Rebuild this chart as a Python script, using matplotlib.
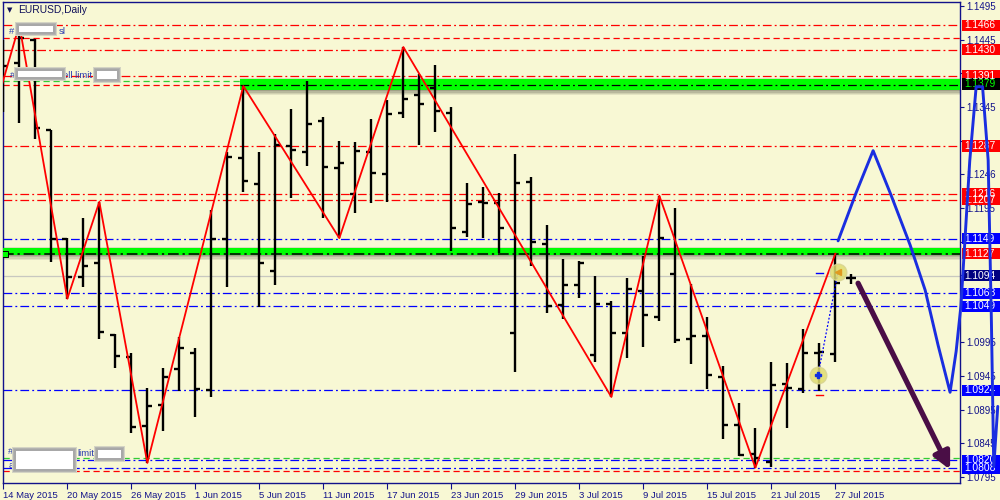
import matplotlib
matplotlib.use("Agg")
import matplotlib.pyplot as plt
from matplotlib.patches import Rectangle
from matplotlib.lines import Line2D
from matplotlib.transforms import blended_transform_factory
import numpy as np

plt.rcParams['font.family'] = ['Liberation Sans', 'DejaVu Sans']

# ---------------- data ----------------
x_labels = ["14 May 2015", "20 May 2015", "26 May 2015", "1 Jun 2015", "5 Jun 2015",
            "11 Jun 2015", "17 Jun 2015", "23 Jun 2015", "29 Jun 2015", "3 Jul 2015",
            "9 Jul 2015", "15 Jul 2015", "21 Jul 2015", "27 Jul 2015"]
x_label_bars = [0, 4, 8, 12, 16, 20, 24, 28, 32, 36, 40, 44, 48, 52]

opens = [1.1366, 1.1410, 1.1444, 1.1311, 1.1149, 1.1092, 1.1113, 1.1006, 1.0973, 1.0871,
         1.0902, 1.0956, 1.0979, 1.0924, 1.1149, 1.1269, 1.1231, 1.1101, 1.1287, 1.1278,
         1.1324, 1.1254, 1.1216, 1.1278, 1.1245, 1.1336, 1.1363, 1.1373, 1.1336, 1.1159,
         1.1204, 1.1202, 1.1009, 1.1234, 1.1141, 1.1051, 1.1080, 1.0976, 1.1052, 1.1009,
         1.1072, 1.1033, 1.1097, 1.1000, 1.1005, 1.0944, 1.0872, 1.0829, 1.0817, 1.0933,
         1.0926, 1.0979, 1.0978, 1.1091]
highs = [1.1445, 1.1467, 1.1446, 1.1311, 1.1150, 1.1180, 1.1204, 1.1008, 1.0979, 1.0927,
         1.0957, 1.1003, 1.0987, 1.1192, 1.1278, 1.1376, 1.1278, 1.1305, 1.1342, 1.1384,
         1.1330, 1.1294, 1.1293, 1.1327, 1.1355, 1.1434, 1.1394, 1.1407, 1.1345, 1.1232,
         1.1226, 1.1217, 1.1275, 1.1241, 1.1170, 1.1119, 1.1116, 1.1094, 1.1057, 1.1091,
         1.1124, 1.1213, 1.1195, 1.1082, 1.1033, 1.0960, 1.0905, 1.0868, 1.0966, 1.0965,
         1.1015, 1.0994, 1.1127, 1.1097]
lows = [1.1337, 1.1321, 1.1297, 1.1115, 1.1060, 1.1077, 1.1000, 1.0957, 1.0861, 1.0816,
        1.0863, 1.0923, 1.0884, 1.0914, 1.1077, 1.1219, 1.1048, 1.1080, 1.1210, 1.1257,
        1.1180, 1.1150, 1.1187, 1.1202, 1.1204, 1.1329, 1.1288, 1.1308, 1.1131, 1.1152,
        1.1150, 1.1128, 1.0951, 1.1109, 1.1039, 1.1030, 1.1061, 1.0966, 1.0914, 1.0972,
        1.0988, 1.1027, 1.0994, 1.0963, 1.0926, 1.0852, 1.0826, 1.0809, 1.0810, 1.0868,
        1.0920, 1.0923, 1.0966, 1.1082]
closes = [1.1406, 1.1447, 1.1314, 1.1149, 1.1092, 1.1109, 1.1011, 1.0975, 1.0869, 1.0901,
          1.0944, 1.0987, 1.0926, 1.1149, 1.1271, 1.1235, 1.1113, 1.1288, 1.1281, 1.1320,
          1.1256, 1.1262, 1.1280, 1.1247, 1.1335, 1.1357, 1.1349, 1.1339, 1.1165, 1.1201,
          1.1202, 1.1165, 1.1232, 1.1144, 1.1049, 1.1080, 1.1113, 1.1052, 1.1009, 1.1074,
          1.1036, 1.1150, 1.0999, 1.1005, 1.0947, 1.0872, 1.0828, 1.0823, 1.0932, 1.0927,
          1.0979, 1.0981, 1.1083, 1.1091]

# zigzag pivots (bar index, 'H' high / 'L' low); first point is the off-chart prior pivot
zigzag_start = (-1, 1.1303)
zigzag_bars = [1, 4, 6, 9, 15, 21, 25, 38, 41, 47, 52]
zigzag_kind = ['H', 'L', 'H', 'L', 'H', 'L', 'H', 'L', 'H', 'L', 'H']

# horizontal levels
red_dashdot = [1.1466, 1.1430, 1.1391, 1.1287, 1.1216, 1.1207]
red_dashed = [1.1448, 1.1378, 1.0804]
green_dashed = [1.1384, 1.0823]
blue_dashdot = [1.1149, 1.1068, 1.1049, 1.0924, 1.0820, 1.0808]
black_dashdot = [1.1377, 1.1127]
bid_price = 1.1094

# zones (price low, price high, starting bar)
zone_upper = (1.1370, 1.1387, 14.8)
zone_lower = (1.1125, 1.1136, -0.5)

# right-hand price labels
tag_prices = [1.1466, 1.1430, 1.1391, 1.1379, 1.1287, 1.1216, 1.1207, 1.1149, 1.1127,
              1.1094, 1.1068, 1.1049, 1.0924, 1.0820, 1.0808]
tag_bg = ['#ff0000', '#ff0000', '#ff0000', '#000000', '#ff0000', '#ff0000', '#ff0000',
          '#0000ff', '#ff0000', '#000080', '#0000ff', '#0000ff', '#0000ff', '#0000ff', '#0000ff']
tag_fg = ['white', 'white', 'white', '#00ff00', 'white', 'white', 'white', 'white', 'white',
          'white', 'white', 'white', 'white', 'white', 'white']

y_ticks = [1.1495, 1.1445, 1.1395, 1.1345, 1.1295, 1.1245, 1.1195, 1.1145, 1.1095,
           1.1045, 1.0995, 1.0945, 1.0895, 1.0845, 1.0795]
# labels fully hidden behind price tags in the reference are left blank
y_tick_labels = ["1.1495", "1.1445", "", "1.1345", "", "1.1246", "1.1195",
                 "", "", "", "1.0995", "1.0945", "1.0895", "1.0845", "1.0795"]

# projection curve (bar index, price)
proj_x = [52.17, 53.29, 54.36, 55.48, 56.67, 57.61, 58.42, 59.17, 59.55, 59.85, 60.4,
          60.8, 61.2, 61.55, 61.75, 61.9, 62.15]
proj_p = [1.1146, 1.1217, 1.1280, 1.1214, 1.1140, 1.1073, 1.0991, 1.0921, 1.0982, 1.1050,
          1.1265, 1.1375, 1.1375, 1.1266, 1.1030, 1.0810, 1.0900]

# forecast arrow
arrow_from = (53.42, 1.1083)
arrow_to = (59.17, 1.0806)

# trade markers
trade_open = (50.92, 1.0947)
trade_close = (52.17, 1.1100)

# ---------------- figure ----------------
BG = '#f8f8d4'
NAVY = '#12128a'
fig = plt.figure(figsize=(10, 5), dpi=100, facecolor=BG)
AX_L, AX_B, AX_W, AX_H = 0.003, 0.034, 0.957, 0.962
ax = fig.add_axes([AX_L, AX_B, AX_W, AX_H])
ax.set_facecolor(BG)
xmin, xmax = -0.02, 59.79
ymin, ymax = 1.07862, 1.15009
ax.set_xlim(xmin, xmax)
ax.set_ylim(ymin, ymax)

for s in ax.spines.values():
    s.set_color(NAVY)
    s.set_linewidth(1.0)

dd = (0, (7, 2.5, 1.5, 2.5))
dash = (0, (5, 3))

# horizontal lines
ax.axhline(bid_price, color='#c8c8c0', lw=0.9, zorder=1)
for p in red_dashdot:
    ax.axhline(p, color='#ff0000', lw=0.9, ls=dd, zorder=2)
for p in red_dashed:
    ax.axhline(p, color='#ff0000', lw=0.9, ls=dash, zorder=2)
for p in green_dashed:
    ax.axhline(p, color='#32cd32', lw=0.9, ls=dash, zorder=2)
for p in blue_dashdot:
    ax.axhline(p, color='#0000ff', lw=0.9, ls=dd, zorder=2)

# zones with shadow
for lo, hi, start in (zone_upper, zone_lower):
    h = hi - lo
    step = 0.00018
    for k, a in enumerate([0.55, 0.4, 0.25, 0.12]):
        ax.add_patch(Rectangle((start + 0.12, lo - step * (k + 1)), xmax - start, step,
                               color='#5a5a48', alpha=a, lw=0, zorder=2.5))
    ax.add_patch(Rectangle((start, hi), xmax - start, step * 0.7,
                           color='#8a8a70', alpha=0.25, lw=0, zorder=2.5))
    ax.add_patch(Rectangle((start, lo), xmax - start, h, color='#00ff00', lw=0, zorder=3))

ax.plot([zone_upper[2], xmax], [black_dashdot[0]] * 2, color='black', lw=0.9, ls=dd, zorder=3.5)
ax.plot([xmin, xmax], [black_dashdot[1]] * 2, color='black', lw=1.1, ls=dd, zorder=3.5)
ax.plot([0.1], [black_dashdot[1]], marker='s', ms=4, mfc='#00ff00', mec='black', mew=0.7, zorder=4)

# OHLC bars
idx = np.arange(len(opens))
ax.vlines(idx, lows, highs, color='black', lw=1.7, zorder=5)
ax.hlines(opens, idx - 0.32, idx, color='black', lw=1.7, zorder=5)
ax.hlines(closes, idx, idx + 0.32, color='black', lw=1.7, zorder=5)

# zigzag
zx = [zigzag_start[0]] + zigzag_bars
zy = [zigzag_start[1]] + [highs[b] if k == 'H' else lows[b] for b, k in zip(zigzag_bars, zigzag_kind)]
ax.plot(zx, zy, color='#ff0000', lw=1.3, zorder=6)

# trade markers
ax.plot([trade_open[0], trade_close[0]], [trade_open[1], trade_close[1]], color='#0000ff',
        lw=0.9, ls=(0, (1.5, 1.5)), zorder=6)
for (tx, ty) in (trade_open, trade_close):
    ax.plot([tx], [ty], 'o', ms=12, mfc='#e0dc70', mec='#d8d490', alpha=0.85, zorder=7)
ax.plot([trade_open[0]], [trade_open[1]], marker='P', ms=5, color='#1030e0', zorder=8)
ax.plot([trade_close[0]], [trade_close[1]], marker='<', ms=5, color='#e09a20', zorder=8)
ax.plot([trade_open[0] - 0.1, trade_open[0] + 0.3], [1.1098] * 2, color='#0000ff', lw=1, zorder=6)
ax.plot([trade_open[0] - 0.1, trade_open[0] + 0.3], [1.0917] * 2, color='#ff0000', lw=1, zorder=6)

# arrow
ax.annotate('', xy=arrow_to, xytext=arrow_from,
            arrowprops=dict(arrowstyle='-|>,head_length=1.0,head_width=0.5', color='#4a0e46',
                            lw=3.8, shrinkA=0, shrinkB=0), zorder=9)

# axes ticks
ax.yaxis.tick_right()
ax.set_yticks(y_ticks)
ax.set_yticklabels(y_tick_labels)
ax.tick_params(axis='y', direction='out', length=3, width=0.8, color=NAVY, labelcolor=NAVY,
               labelsize=7, pad=1.5)
ax.set_xticks(x_label_bars)
ax.set_xticklabels(x_labels, ha='left')
ax.tick_params(axis='x', direction='out', length=4, width=0.8, color=NAVY, labelcolor=NAVY,
               labelsize=6.8, pad=1.5)

# right-side price tags
tr = blended_transform_factory(fig.transFigure, ax.transData)
half = 5.6 / 6729
for p, bg, fg in zip(tag_prices, tag_bg, tag_fg):
    ax.add_patch(Rectangle((0.962, p - half), 0.038, 2 * half, transform=tr, color=bg,
                           clip_on=False, zorder=20, lw=0))
    ax.text(0.9645, p, "%.4f" % p, transform=tr, color=fg, fontsize=7.4, va='center',
            ha='left', zorder=21, clip_on=False)

# projection curve: drawn at figure level (runs past the price scale), using the axes' data transform
fig.canvas.draw()
pts = ax.transData.transform(np.column_stack([proj_x, proj_p]))
fw, fh = fig.bbox.width, fig.bbox.height
fig.add_artist(Line2D(pts[:, 0] / fw, pts[:, 1] / fh, transform=fig.transFigure,
                      color='#1a2ee0', lw=2.1, solid_joinstyle='round',
                      solid_capstyle='round', zorder=40))


# ---- overlay text & redaction boxes (figure pixel positions) ----
def fpx(x, y):
    return x / 1000.0, 1 - y / 500.0


def box(x0, y0, x1, y1):
    for pad, col in ((4, '#d4d4c4'), (3, '#b4b4b0'), (2, '#a8a8a8')):
        fig.add_artist(Rectangle(fpx(x0 - pad, y1 + pad), (x1 - x0 + 2 * pad) / 1000,
                                 (y1 - y0 + 2 * pad) / 500, transform=fig.transFigure,
                                 color=col, lw=0, zorder=30))
    fig.add_artist(Rectangle(fpx(x0, y1), (x1 - x0) / 1000, (y1 - y0) / 500,
                             transform=fig.transFigure, color='white', lw=0, zorder=31))


TXT = '#2a3cb0'
for (x, y, s) in [(9, 31, '#'), (59, 31, 'sl'), (10, 75, '#'), (63, 75, 'ell limit'),
                  (8, 452, '#'), (77, 453, 'limit'), (9, 466, 'a')]:
    fig.text(*fpx(x, y), s, color=TXT, fontsize=6.8, va='center', ha='left', zorder=29)

box(19, 26, 53, 32)
box(18, 71, 62, 77)
box(97, 71, 117, 79)
box(16, 451, 73, 469)
box(98, 450, 121, 458)

fig.text(*fpx(7, 10), '\u25bc', color='#10105a', fontsize=5, va='center', ha='left',
         family=['DejaVu Sans'])
fig.text(*fpx(18, 10), 'EURUSD,Daily', color='#10105a', fontsize=7.4, va='center', ha='left')

fig.savefig('out.png', dpi=100, facecolor=BG)
